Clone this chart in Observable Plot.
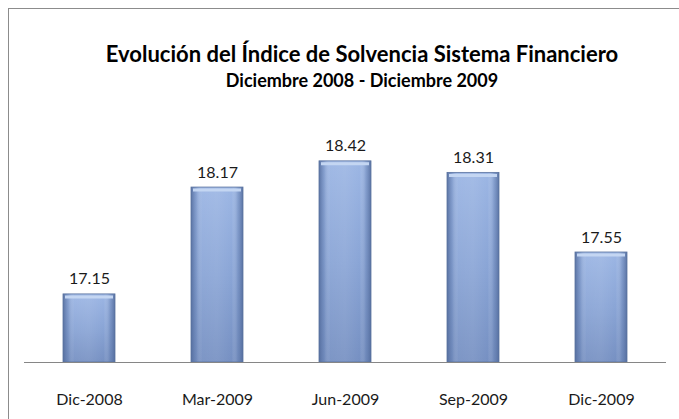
<!DOCTYPE html>
<html>
<head>
<meta charset="utf-8">
<script src="https://cdn.jsdelivr.net/npm/d3@7"></script>
<script src="https://cdn.jsdelivr.net/npm/@observablehq/plot@0.6"></script>
<style>
  html, body { margin: 0; padding: 0; background: #fff; }
  #wrap { position: relative; width: 679px; height: 419px; overflow: hidden; background: #fff; font-family: Lato, "Open Sans", sans-serif; }
  #frame { position: absolute; left: 8px; top: 8px; width: 720px; height: 460px; border: 1px solid #8c8c8c; box-sizing: border-box; }
  #head { position: absolute; left: 0; top: 0; width: 679px; height: 100px; }
  #title { position: absolute; left: 62px; width: 600px; top: 40px; text-align: center; font-weight: 700; font-size: 22px; color: #000; line-height: 27px; white-space: nowrap; }
  #subtitle { position: absolute; left: 62px; width: 600px; top: 69px; text-align: center; font-weight: 700; font-size: 18px; color: #000; line-height: 22px; white-space: nowrap; }
  #chart { position: absolute; left: 0; top: 100px; }
</style>
</head>
<body>
<div id="wrap">
  <div id="frame"></div>
  <div id="head">
    <div id="title">Evolución del Índice de Solvencia Sistema Financiero</div>
    <div id="subtitle">Diciembre 2008 - Diciembre 2009</div>
  </div>
  <div id="chart"></div>
</div>
<script>
const periods = ["Dic-2008", "Mar-2009", "Jun-2009", "Sep-2009", "Dic-2009"];
const values = [17.15, 18.17, 18.42, 18.31, 17.55];
const yMin = 16.5;
const yMax = 18.6;

const data = periods.map((p, i) => ({ period: p, value: values[i] }));

const plot = Plot.plot({
  width: 679,
  height: 319,
  marginLeft: 24,
  marginRight: 13,
  marginTop: 42,
  marginBottom: 57,
  style: { background: "transparent", fontFamily: "Lato, 'Open Sans', sans-serif", overflow: "visible" },
  x: { domain: periods, paddingInner: 0.59, paddingOuter: 0.295, axis: null, label: null },
  y: { domain: [yMin, yMax], axis: null },
  marks: [
    Plot.barY(data, { x: "period", y1: yMin, y2: "value", fill: "url(#gV)" }),
    Plot.barY(data, { x: "period", y1: yMin, y2: "value", fill: "url(#gH)", stroke: "#5a739f", strokeWidth: 0.8 }),
    Plot.tickY(data, { x: "period", y: "value", stroke: "#c4d6f2", strokeWidth: 3, dy: 2.5, inset: 2 }),
    Plot.ruleY([yMin], { stroke: "#868686", strokeWidth: 1 }),
    Plot.text(data, { x: "period", y: "value", text: d => d.value.toFixed(2), lineAnchor: "bottom", dy: -10, fontSize: 16, fill: "#1a1a1a" }),
    Plot.axisX({ tickSize: 0, tickPadding: 31, fontSize: 16, color: "#1a1a1a", label: null })
  ]
});

// gradient definitions for the bevelled bars
const ns = "http://www.w3.org/2000/svg";
const defs = document.createElementNS(ns, "defs");
defs.innerHTML = `
  <linearGradient id="gV" x1="0" y1="0" x2="0" y2="1">
    <stop offset="0" stop-color="#9cb6e4"/>
    <stop offset="0.5" stop-color="#8aa5d6"/>
    <stop offset="1" stop-color="#7690c2"/>
  </linearGradient>
  <linearGradient id="gH" x1="0" y1="0" x2="1" y2="0">
    <stop offset="0" stop-color="#4f6899" stop-opacity="0.85"/>
    <stop offset="0.1" stop-color="#5f79aa" stop-opacity="0.35"/>
    <stop offset="0.22" stop-color="#ffffff" stop-opacity="0.05"/>
    <stop offset="0.5" stop-color="#ffffff" stop-opacity="0.08"/>
    <stop offset="0.78" stop-color="#ffffff" stop-opacity="0.0"/>
    <stop offset="0.9" stop-color="#5f79aa" stop-opacity="0.35"/>
    <stop offset="1" stop-color="#4f6899" stop-opacity="0.85"/>
  </linearGradient>`;
plot.insertBefore(defs, plot.firstChild);
document.getElementById("chart").appendChild(plot);
</script>
</body>
</html>
